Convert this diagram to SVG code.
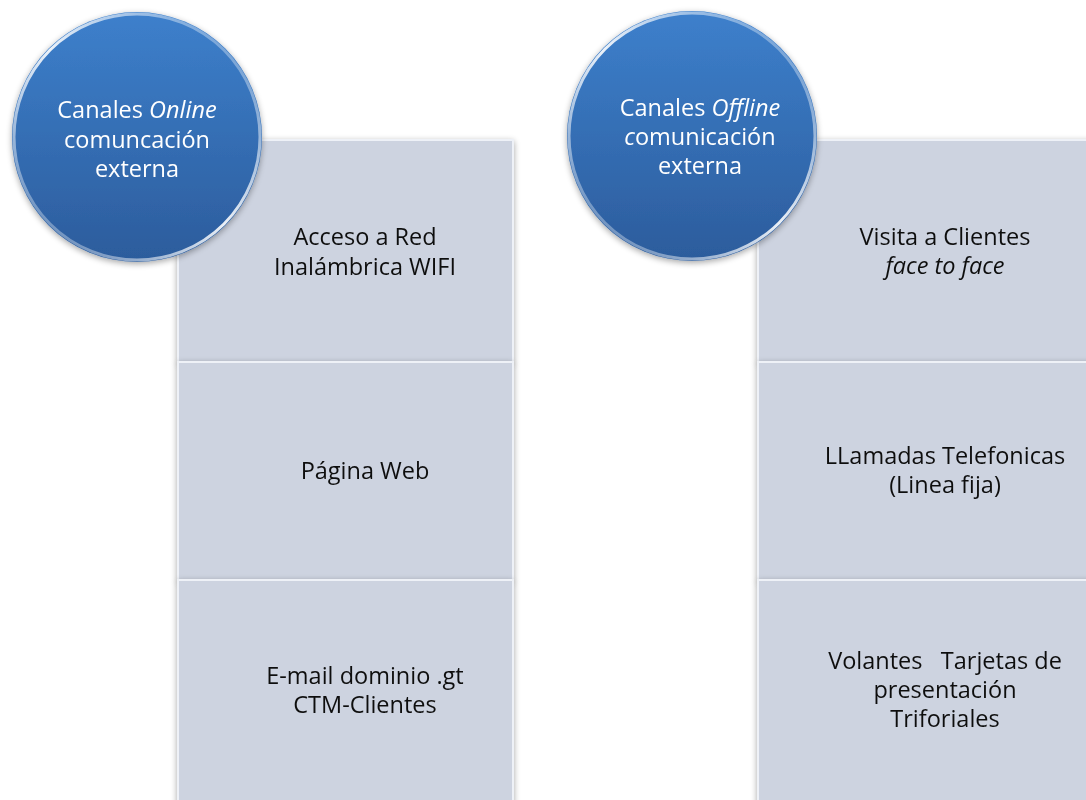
<svg xmlns="http://www.w3.org/2000/svg" width="1086" height="800" viewBox="0 0 1086 800">
<style>
.box{fill:#cdd3e0;stroke:#eef1f7;stroke-width:2}
.lbl{font-family:"Open Sans","Liberation Sans",sans-serif;font-size:23.5px;fill:#111;text-anchor:middle}
.ttl{font-family:"Open Sans","Liberation Sans",sans-serif;font-size:23.5px;fill:#ffffff;text-anchor:middle}
.it{font-style:italic}
</style>
<defs>
<linearGradient id="blue" x1="0" y1="0" x2="0" y2="1">
<stop offset="0" stop-color="#3d80cc"/>
<stop offset="1" stop-color="#2c5c9c"/>
</linearGradient>
<linearGradient id="rim" x1="0" y1="0" x2="1" y2="1">
<stop offset="0" stop-color="#ffffff" stop-opacity="0.1"/>
<stop offset="0.5" stop-color="#ffffff" stop-opacity="0.9"/>
<stop offset="1" stop-color="#ffffff" stop-opacity="0.1"/>
</linearGradient>
<filter id="sh" x="-20%" y="-20%" width="140%" height="140%">
<feGaussianBlur in="SourceAlpha" stdDeviation="3"/>
<feOffset dx="0" dy="2"/>
<feComponentTransfer><feFuncA type="linear" slope="0.35"/></feComponentTransfer>
<feMerge><feMergeNode/><feMergeNode in="SourceGraphic"/></feMerge>
</filter>
</defs>
<rect width="1086" height="800" fill="#ffffff"/>
<g id="online-items">
<g id="n-wifi" filter="url(#sh)">
<rect class="box" x="178" y="140" width="335" height="222"/>
<text class="lbl" x="365" y="245">Acceso a Red</text>
<text class="lbl" x="365" y="275">Inalámbrica WIFI</text>
</g>
<g id="n-web" filter="url(#sh)">
<rect class="box" x="178" y="362" width="335" height="218"/>
<text class="lbl" x="365" y="479">Página Web</text>
</g>
<g id="n-email" filter="url(#sh)">
<rect class="box" x="178" y="580" width="335" height="225"/>
<text class="lbl" x="365" y="684">E-mail dominio .gt</text>
<text class="lbl" x="365" y="713">CTM-Clientes</text>
</g>
</g>
<g id="offline-items">
<g id="n-visita" filter="url(#sh)">
<rect class="box" x="758" y="140" width="340" height="222"/>
<text class="lbl" x="945" y="245">Visita a Clientes</text>
<text class="lbl it" x="945" y="274">face to face</text>
</g>
<g id="n-llamadas" filter="url(#sh)">
<rect class="box" x="758" y="362" width="340" height="218"/>
<text class="lbl" x="945" y="464">LLamadas Telefonicas</text>
<text class="lbl" x="945" y="493">(Linea fija)</text>
</g>
<g id="n-volantes" filter="url(#sh)">
<rect class="box" x="758" y="580" width="340" height="225"/>
<text class="lbl" x="945" y="669" xml:space="preserve">Volantes   Tarjetas de</text>
<text class="lbl" x="945" y="698">presentación</text>
<text class="lbl" x="945" y="727">Triforiales</text>
</g>
</g>
<g id="n-online" filter="url(#sh)">
<circle cx="137" cy="137" r="125" fill="url(#blue)"/>
<circle cx="137" cy="137" r="123" fill="none" stroke="url(#rim)" stroke-width="3" transform="rotate(90 137 137)"/>
<text class="ttl" x="137" y="118">Canales <tspan class="it">Online</tspan></text>
<text class="ttl" x="137" y="148">comuncación</text>
<text class="ttl" x="137" y="177">externa</text>
</g>
<g id="n-offline" filter="url(#sh)">
<circle cx="692" cy="136" r="125" fill="url(#blue)"/>
<circle cx="692" cy="136" r="123" fill="none" stroke="url(#rim)" stroke-width="3" transform="rotate(90 692 136)"/>
<text class="ttl" x="700" y="116">Canales <tspan class="it">Offline</tspan></text>
<text class="ttl" x="700" y="145"><tspan class="it">c</tspan>omunicación</text>
<text class="ttl" x="700" y="174">externa</text>
</g>
<g id="connectors"></g>
</svg>
